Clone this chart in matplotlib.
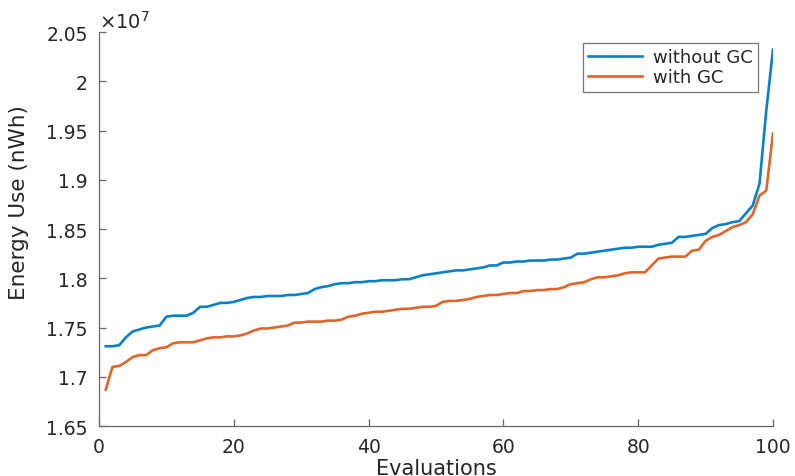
import numpy as np
import matplotlib
matplotlib.use("Agg")
import matplotlib.pyplot as plt
from matplotlib.ticker import FuncFormatter

plt.rcParams["font.family"] = ["DejaVu Sans"]

# Data (energy use in units of 1e7 nWh), evaluations 1..100
evals = np.arange(1, 101)
without_gc = [
    1.731, 1.731, 1.732, 1.740, 1.746, 1.748, 1.750, 1.751, 1.752, 1.761,
    1.762, 1.762, 1.762, 1.765, 1.771, 1.771, 1.773, 1.775, 1.775, 1.776,
    1.778, 1.780, 1.781, 1.781, 1.782, 1.782, 1.782, 1.783, 1.783, 1.784,
    1.785, 1.789, 1.791, 1.792, 1.794, 1.795, 1.795, 1.796, 1.796, 1.797,
    1.797, 1.798, 1.798, 1.798, 1.799, 1.799, 1.801, 1.803, 1.804, 1.805,
    1.806, 1.807, 1.808, 1.808, 1.809, 1.810, 1.811, 1.813, 1.813, 1.816,
    1.816, 1.817, 1.817, 1.818, 1.818, 1.818, 1.819, 1.819, 1.820, 1.821,
    1.825, 1.825, 1.826, 1.827, 1.828, 1.829, 1.830, 1.831, 1.831, 1.832,
    1.832, 1.832, 1.834, 1.835, 1.836, 1.842, 1.842, 1.843, 1.844, 1.845,
    1.851, 1.854, 1.855, 1.857, 1.858, 1.866, 1.874, 1.896, 1.970, 2.032,
]
with_gc = [
    1.687, 1.710, 1.711, 1.715, 1.720, 1.722, 1.722, 1.727, 1.729, 1.730,
    1.734, 1.735, 1.735, 1.735, 1.737, 1.739, 1.740, 1.740, 1.741, 1.741,
    1.742, 1.744, 1.747, 1.749, 1.749, 1.750, 1.751, 1.752, 1.755, 1.755,
    1.756, 1.756, 1.756, 1.757, 1.757, 1.758, 1.761, 1.762, 1.764, 1.765,
    1.766, 1.766, 1.767, 1.768, 1.769, 1.769, 1.770, 1.771, 1.771, 1.772,
    1.776, 1.777, 1.777, 1.778, 1.779, 1.781, 1.782, 1.783, 1.783, 1.784,
    1.785, 1.785, 1.787, 1.787, 1.788, 1.788, 1.789, 1.789, 1.791, 1.794,
    1.795, 1.796, 1.799, 1.801, 1.801, 1.802, 1.803, 1.805, 1.806, 1.806,
    1.806, 1.813, 1.820, 1.821, 1.822, 1.822, 1.822, 1.828, 1.829, 1.838,
    1.842, 1.844, 1.848, 1.852, 1.854, 1.857, 1.865, 1.884, 1.889, 1.947,
]
SCALE = 1e7
x_ticks = [0, 20, 40, 60, 80, 100]
y_ticks = [1.65, 1.7, 1.75, 1.8, 1.85, 1.9, 1.95, 2.0, 2.05]

fig = plt.figure(figsize=(7.95, 4.77), dpi=100)
ax = fig.add_axes([0.1245, 0.1048, 0.8478, 0.826])

ax.plot(evals, np.array(without_gc) * SCALE, color="#0A80C8", lw=1.9, label="without GC")
ax.plot(evals, np.array(with_gc) * SCALE, color="#E0652A", lw=1.9, label="with GC")

ax.set_xlim(0, 100)
ax.set_ylim(1.65 * SCALE, 2.05 * SCALE)
ax.set_xticks(x_ticks)
ax.set_yticks([v * SCALE for v in y_ticks])
ax.yaxis.set_major_formatter(FuncFormatter(lambda v, p: f"{v / SCALE:g}"))

ax.spines["top"].set_visible(False)
ax.spines["right"].set_visible(False)
for s in ("left", "bottom"):
    ax.spines[s].set_color("#666666")
    ax.spines[s].set_linewidth(0.9)
ax.tick_params(direction="in", length=5, width=0.9, color="#666666",
               labelsize=13.5, labelcolor="#262626", pad=8)

ax.set_xlabel("Evaluations", fontsize=15, color="#262626", labelpad=1)
ax.set_ylabel("Energy Use (nWh)", fontsize=15.5, color="#262626")
ax.yaxis.set_label_coords(-0.104, 0.57)

ax.text(0.0, 1.0, r"$\times10^7$", transform=ax.transAxes, fontsize=14,
        color="#262626", ha="left", va="bottom")

leg = ax.legend(loc="upper right", bbox_to_anchor=(0.978, 0.972), fontsize=13,
                fancybox=False, edgecolor="#555555", handlelength=3.0,
                borderpad=0.3, labelspacing=0.1, handletextpad=0.6,
                borderaxespad=0)
leg.get_frame().set_linewidth(0.9)
for t in leg.get_texts():
    t.set_color("#262626")

fig.savefig("out.png", dpi=100)
